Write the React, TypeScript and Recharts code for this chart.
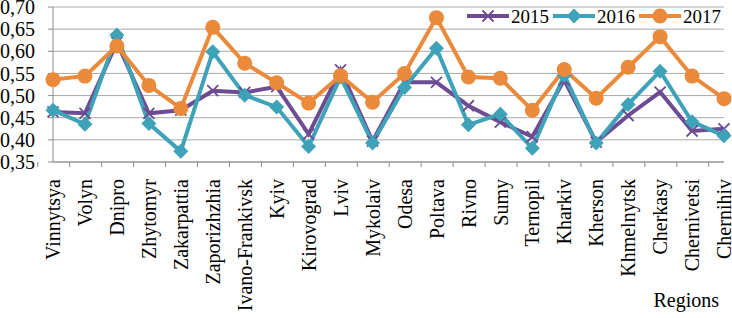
import React from "react"
import { LineChart, Line, XAxis, YAxis, CartesianGrid } from "recharts"

const regions = [
  "Vinnytsya", "Volyn", "Dnipro", "Zhytomyr", "Zakarpattia", "Zaporizhzhia",
  "Ivano-Frankivsk", "Kyiv", "Kirovograd", "Lviv", "Mykolaiv", "Odesa",
  "Poltava", "Rivno", "Sumy", "Ternopil", "Kharkiv", "Kherson",
  "Khmelnytsk", "Cherkasy", "Chernivetsi", "Chernihiv",
]

const v2015 = [0.463, 0.46, 0.62, 0.46, 0.467, 0.511, 0.507, 0.52, 0.413, 0.558, 0.397, 0.53, 0.53, 0.477, 0.44, 0.407, 0.535, 0.395, 0.455, 0.508, 0.42, 0.425]
const v2016 = [0.467, 0.435, 0.637, 0.437, 0.374, 0.599, 0.501, 0.474, 0.385, 0.542, 0.393, 0.518, 0.607, 0.434, 0.458, 0.381, 0.546, 0.393, 0.48, 0.555, 0.441, 0.409]
const v2017 = [0.536, 0.544, 0.612, 0.523, 0.471, 0.654, 0.573, 0.529, 0.483, 0.545, 0.485, 0.55, 0.676, 0.542, 0.539, 0.467, 0.559, 0.494, 0.564, 0.633, 0.544, 0.493]

const yTicks = [0.35, 0.4, 0.45, 0.5, 0.55, 0.6, 0.65, 0.7]

const series = [
  { key: "y2015", name: "2015", color: "#6d4c94", marker: "x" },
  { key: "y2016", name: "2016", color: "#3ea2b8", marker: "diamond" },
  { key: "y2017", name: "2017", color: "#eb8a3a", marker: "circle" },
]

const data = regions.map((region, i) => ({
  region,
  y2015: v2015[i],
  y2016: v2016[i],
  y2017: v2017[i],
}))

const W = 732
const H = 318
const margin = { top: 7, right: 8, left: 0, bottom: 0 }
const Y_W = 53
const X_H = 156
const halfBand = (W - Y_W - margin.right) / regions.length / 2
const font = "'Liberation Serif', 'Times New Roman', serif"
const axisGray = "#8c8c8c"

function Marker({ type, cx, cy, color }: { type: string; cx: number; cy: number; color: string }) {
  if (type === "x") {
    const s = 5.5
    return (
      <g stroke={color} strokeWidth={1.8}>
        <line x1={cx - s} y1={cy - s} x2={cx + s} y2={cy + s} />
        <line x1={cx - s} y1={cy + s} x2={cx + s} y2={cy - s} />
      </g>
    )
  }
  if (type === "diamond") {
    const s = 7.5
    return <polygon points={`${cx},${cy - s} ${cx + s},${cy} ${cx},${cy + s} ${cx - s},${cy}`} fill={color} />
  }
  return <circle cx={cx} cy={cy} r={7.5} fill={color} />
}

const makeDot = (type: string, color: string) => (props: any) => {
  const { cx, cy, index } = props
  if (cx == null || cy == null) return <g key={index} />
  return (
    <g key={index}>
      <Marker type={type} cx={cx} cy={cy} color={color} />
    </g>
  )
}

function RegionTick(props: any) {
  const { x, y, payload, index } = props
  const last = index === regions.length - 1
  return (
    <g>
      <line x1={x - halfBand} y1={y} x2={x - halfBand} y2={y + 5} stroke={axisGray} />
      {last && <line x1={x + halfBand} y1={y} x2={x + halfBand} y2={y + 5} stroke={axisGray} />}
      <text
        x={x}
        y={y + 17}
        transform={`rotate(-90, ${x}, ${y + 17})`}
        textAnchor="end"
        dy="0.36em"
        fontFamily={font}
        fontSize={20}
        fill="#000"
      >
        {payload.value}
      </text>
    </g>
  )
}

function LegendBox() {
  return (
    <svg width={270} height={20} style={{ position: "absolute", left: 462, top: 6 }}>
      {series.map((s, i) => {
        const x0 = 5 + i * 86
        return (
          <g key={s.key}>
            <line x1={x0} y1={10} x2={x0 + 42} y2={10} stroke={s.color} strokeWidth={4} />
            <Marker type={s.marker} cx={x0 + 21} cy={10} color={s.color} />
            <text x={x0 + 44} y={17} fontFamily={font} fontSize={19} fill="#000">
              {s.name}
            </text>
          </g>
        )
      })}
    </svg>
  )
}

export default function App() {
  return (
    <div style={{ position: "absolute", left: 0, top: 0, width: W, height: H, background: "#fff" }}>
      <LineChart width={W} height={H} data={data} margin={margin}>
        <CartesianGrid vertical={false} stroke="#a9a9a9" />
        <XAxis
          dataKey="region"
          interval={0}
          height={X_H}
          stroke={axisGray}
          tickLine={false}
          tickSize={0}
          tickMargin={0}
          tick={<RegionTick />}
          label={({ viewBox }: any) => (
            <text
              x={viewBox.x + viewBox.width - 5}
              y={viewBox.y + viewBox.height - 11}
              textAnchor="end"
              fontFamily={font}
              fontSize={20}
              fill="#000"
            >
              Regions
            </text>
          )}
        />
        <YAxis
          width={Y_W}
          domain={[0.35, 0.7]}
          ticks={yTicks}
          interval={0}
          stroke={axisGray}
          tickSize={5}
          tickMargin={13}
          tick={{ fontFamily: font, fontSize: 20, fill: "#000" }}
          tickFormatter={(v: number) => v.toFixed(2).replace(".", ",")}
        />
        {series.map((s) => (
          <Line
            key={s.key}
            type="linear"
            dataKey={s.key}
            name={s.name}
            stroke={s.color}
            strokeWidth={4}
            dot={makeDot(s.marker, s.color)}
            activeDot={false}
            isAnimationActive={false}
          />
        ))}
      </LineChart>
      <LegendBox />
    </div>
  )
}
